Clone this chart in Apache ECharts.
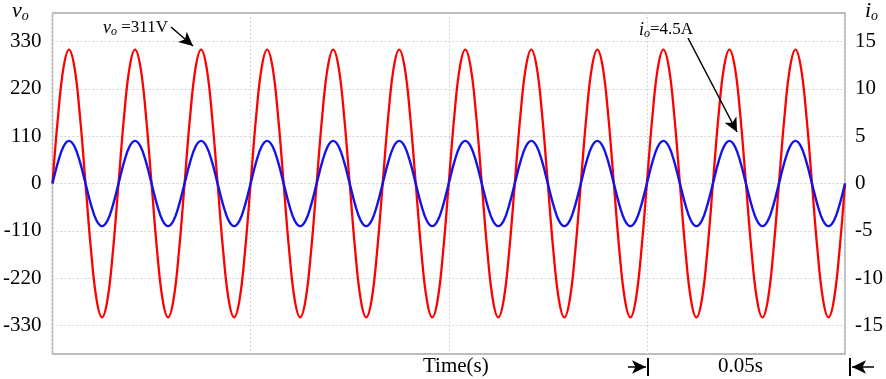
<!DOCTYPE html>
<html>
<head>
<meta charset="utf-8">
<script src="https://cdn.jsdelivr.net/npm/echarts@6/dist/echarts.min.js"></script>
<style>
  html, body { margin: 0; padding: 0; background: #fff; }
  #main { width: 886px; height: 379px; }
</style>
</head>
<body>
<div id="main"></div>
<script>
// samples, 12 per 60 Hz cycle, 12 cycles (0 .. 0.2 s)
const sampleStep = 0.2 / 144;

const voltage = [
  0, 155, 269, 311, 269, 155, 0, -155, -269, -311, -269, -155,
  0, 155, 269, 311, 269, 155, 0, -155, -269, -311, -269, -155,
  0, 155, 269, 311, 269, 155, 0, -155, -269, -311, -269, -155,
  0, 155, 269, 311, 269, 155, 0, -155, -269, -311, -269, -155,
  0, 155, 269, 311, 269, 155, 0, -155, -269, -311, -269, -155,
  0, 155, 269, 311, 269, 155, 0, -155, -269, -311, -269, -155,
  0, 155, 269, 311, 269, 155, 0, -155, -269, -311, -269, -155,
  0, 155, 269, 311, 269, 155, 0, -155, -269, -311, -269, -155,
  0, 155, 269, 311, 269, 155, 0, -155, -269, -311, -269, -155,
  0, 155, 269, 311, 269, 155, 0, -155, -269, -311, -269, -155,
  0, 155, 269, 311, 269, 155, 0, -155, -269, -311, -269, -155,
  0, 155, 269, 311, 269, 155, 0, -155, -269, -311, -269, -155,
  0
];

const current = [
  0, 2.25, 3.9, 4.5, 3.9, 2.25, 0, -2.25, -3.9, -4.5, -3.9, -2.25,
  0, 2.25, 3.9, 4.5, 3.9, 2.25, 0, -2.25, -3.9, -4.5, -3.9, -2.25,
  0, 2.25, 3.9, 4.5, 3.9, 2.25, 0, -2.25, -3.9, -4.5, -3.9, -2.25,
  0, 2.25, 3.9, 4.5, 3.9, 2.25, 0, -2.25, -3.9, -4.5, -3.9, -2.25,
  0, 2.25, 3.9, 4.5, 3.9, 2.25, 0, -2.25, -3.9, -4.5, -3.9, -2.25,
  0, 2.25, 3.9, 4.5, 3.9, 2.25, 0, -2.25, -3.9, -4.5, -3.9, -2.25,
  0, 2.25, 3.9, 4.5, 3.9, 2.25, 0, -2.25, -3.9, -4.5, -3.9, -2.25,
  0, 2.25, 3.9, 4.5, 3.9, 2.25, 0, -2.25, -3.9, -4.5, -3.9, -2.25,
  0, 2.25, 3.9, 4.5, 3.9, 2.25, 0, -2.25, -3.9, -4.5, -3.9, -2.25,
  0, 2.25, 3.9, 4.5, 3.9, 2.25, 0, -2.25, -3.9, -4.5, -3.9, -2.25,
  0, 2.25, 3.9, 4.5, 3.9, 2.25, 0, -2.25, -3.9, -4.5, -3.9, -2.25,
  0, 2.25, 3.9, 4.5, 3.9, 2.25, 0, -2.25, -3.9, -4.5, -3.9, -2.25,
  0
];

const voltageTicks = [-330, -220, -110, 0, 110, 220, 330];
const currentTicks = [-15, -10, -5, 0, 5, 10, 15];

const serif = '"Liberation Serif", "Times New Roman", serif';
const gridLine = { show: true, lineStyle: { color: '#d4d4d4', type: [2, 2], width: 1 } };

const chart = echarts.init(document.getElementById('main'));

const arrow = (x1, y1, x2, y2) => [{ x: x1, y: y1 }, { x: x2, y: y2 }];

chart.setOption({
  animation: false,
  textStyle: { fontFamily: serif, color: '#000' },
  grid: {
    left: 49, right: 37, top: 13, bottom: 25,
    show: true, borderColor: '#a8a8a8', borderWidth: 1.5
  },
  xAxis: {
    type: 'value',
    min: 0,
    max: 0.2,
    interval: 0.05,
    axisLine: { show: false },
    axisTick: { show: false },
    axisLabel: { show: false },
    splitLine: gridLine
  },
  yAxis: [
    {
      type: 'value',
      min: -396,
      max: 396,
      axisLine: { show: false },
      axisTick: { show: false, customValues: voltageTicks },
      axisLabel: { customValues: voltageTicks, fontFamily: serif, fontSize: 21, color: '#000', margin: 11 },
      splitLine: gridLine
    },
    {
      type: 'value',
      min: -18,
      max: 18,
      position: 'right',
      axisLine: { show: false },
      axisTick: { show: false, customValues: currentTicks },
      axisLabel: { customValues: currentTicks, fontFamily: serif, fontSize: 21, color: '#000', margin: 10 },
      splitLine: { show: false }
    }
  ],
  series: [
    {
      name: 'vo',
      type: 'line',
      yAxisIndex: 0,
      showSymbol: false,
      smooth: 0.4,
      lineStyle: { color: '#ff0000', width: 2.3 },
      data: voltage.map((v, i) => [i * sampleStep, v]),
      markLine: {
        silent: true,
        symbol: ['none', 'arrow'],
        symbolSize: [10, 14],
        label: { show: false },
        lineStyle: { color: '#000', width: 1.5, type: 'solid' },
        data: [
          arrow(171, 27, 193, 46),
          arrow(688, 38, 737, 132),
          arrow(628, 367, 646, 367),
          arrow(874, 367, 852, 367)
        ]
      }
    },
    {
      name: 'io',
      type: 'line',
      yAxisIndex: 1,
      showSymbol: false,
      smooth: 0.4,
      lineStyle: { color: '#1414e6', width: 2.4 },
      data: current.map((v, i) => [i * sampleStep, v])
    }
  ],
  graphic: [
    {
      type: 'text', left: 12, top: 0,
      style: {
        text: '{v|v}{s|o}',
        rich: {
          v: { fontFamily: serif, fontSize: 22, fontStyle: 'italic', fill: '#000' },
          s: { fontFamily: serif, fontSize: 14, fontStyle: 'italic', fill: '#000', padding: [10, 0, 0, 0] }
        }
      }
    },
    {
      type: 'text', left: 865, top: 0,
      style: {
        text: '{v|i}{s|o}',
        rich: {
          v: { fontFamily: serif, fontSize: 22, fontStyle: 'italic', fill: '#000' },
          s: { fontFamily: serif, fontSize: 14, fontStyle: 'italic', fill: '#000', padding: [10, 0, 0, 0] }
        }
      }
    },
    {
      type: 'text', left: 103, top: 19,
      style: {
        text: '{v|v}{s|o}{t| =311V}',
        rich: {
          v: { fontFamily: serif, fontSize: 18, fontStyle: 'italic', fill: '#000' },
          s: { fontFamily: serif, fontSize: 12, fontStyle: 'italic', fill: '#000', padding: [8, 0, 0, 0] },
          t: { fontFamily: serif, fontSize: 17, fill: '#000' }
        }
      }
    },
    {
      type: 'text', left: 639, top: 21,
      style: {
        text: '{v|i}{s|o}{t|=4.5A}',
        rich: {
          v: { fontFamily: serif, fontSize: 18, fontStyle: 'italic', fill: '#000' },
          s: { fontFamily: serif, fontSize: 12, fontStyle: 'italic', fill: '#000', padding: [8, 0, 0, 0] },
          t: { fontFamily: serif, fontSize: 17, fill: '#000' }
        }
      }
    },
    {
      type: 'text', left: 423, top: 356,
      style: { text: 'Time(s)', fontFamily: serif, fontSize: 21, fill: '#000' }
    },
    {
      type: 'text', left: 718, top: 356,
      style: { text: '0.05s', fontFamily: serif, fontSize: 21, fill: '#000' }
    },
    {
      type: 'line', shape: { x1: 648, y1: 358, x2: 648, y2: 376 },
      style: { stroke: '#000', lineWidth: 2 }
    },
    {
      type: 'line', shape: { x1: 850, y1: 358, x2: 850, y2: 376 },
      style: { stroke: '#000', lineWidth: 2 }
    }
  ]
});
</script>
</body>
</html>
